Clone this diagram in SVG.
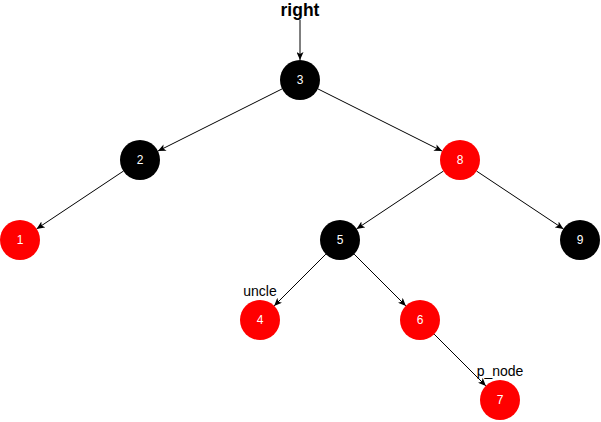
<svg xmlns="http://www.w3.org/2000/svg" width="601" height="422" viewBox="0 0 601 422">
  <defs>
    <marker id="arrow" viewBox="0 0 8 7" refX="8" refY="3.5" markerWidth="8" markerHeight="7" markerUnits="userSpaceOnUse" orient="auto">
      <path d="M0,0 L8,3.5 L0,7 L2,3.5 z" fill="#000"/>
    </marker>
  </defs>
  <style>
    .edge { stroke: #000; stroke-width: 1; fill: none; marker-end: url(#arrow); }
    .black { fill: #000; }
    .red { fill: #ff0000; }
    .num { font-family: "Liberation Sans", Arial, sans-serif; font-size: 12px; fill: #fff; text-anchor: middle; dominant-baseline: central; }
    .lbl { font-family: "Liberation Sans", Arial, sans-serif; font-size: 14px; fill: #000; text-anchor: middle; }
    .title { font-family: "Liberation Sans", Arial, sans-serif; font-size: 17.5px; font-weight: bold; fill: #000; text-anchor: middle; }
  </style>
  <rect width="601" height="422" fill="#fff"/>

  <g id="connectors">
    <line class="edge" x1="300" y1="20" x2="300" y2="60"/>
    <line class="edge" x1="282.1" y1="88.9" x2="157.9" y2="151.1"/>
    <line class="edge" x1="317.9" y1="88.9" x2="442.1" y2="151.1"/>
    <line class="edge" x1="123.4" y1="171.1" x2="36.6" y2="228.9"/>
    <line class="edge" x1="443.4" y1="171.1" x2="356.6" y2="228.9"/>
    <line class="edge" x1="476.6" y1="171.1" x2="563.4" y2="228.9"/>
    <line class="edge" x1="325.9" y1="254.1" x2="274.1" y2="305.9"/>
    <line class="edge" x1="354.1" y1="254.1" x2="405.9" y2="305.9"/>
    <line class="edge" x1="434.1" y1="334.1" x2="485.9" y2="385.9"/>
  </g>

  <g id="title-right">
    <text class="title" x="300" y="16">right</text>
  </g>

  <g id="node-3">
    <circle class="black" cx="300" cy="80" r="20"/>
    <text class="num" x="300" y="80">3</text>
  </g>
  <g id="node-2">
    <circle class="black" cx="140" cy="160" r="20"/>
    <text class="num" x="140" y="160">2</text>
  </g>
  <g id="node-8">
    <circle class="red" cx="460" cy="160" r="20"/>
    <text class="num" x="460" y="160">8</text>
  </g>
  <g id="node-1">
    <circle class="red" cx="20" cy="240" r="20"/>
    <text class="num" x="20" y="240">1</text>
  </g>
  <g id="node-5">
    <circle class="black" cx="340" cy="240" r="20"/>
    <text class="num" x="340" y="240">5</text>
  </g>
  <g id="node-9">
    <circle class="black" cx="580" cy="240" r="20"/>
    <text class="num" x="580" y="240">9</text>
  </g>
  <g id="node-4">
    <circle class="red" cx="260" cy="320" r="20"/>
    <text class="num" x="260" y="320">4</text>
    <text class="lbl" x="260" y="296">uncle</text>
  </g>
  <g id="node-6">
    <circle class="red" cx="420" cy="320" r="20"/>
    <text class="num" x="420" y="320">6</text>
  </g>
  <g id="node-7">
    <circle class="red" cx="500" cy="400" r="20"/>
    <text class="num" x="500" y="400">7</text>
    <text class="lbl" x="500" y="376">p_node</text>
  </g>
</svg>
